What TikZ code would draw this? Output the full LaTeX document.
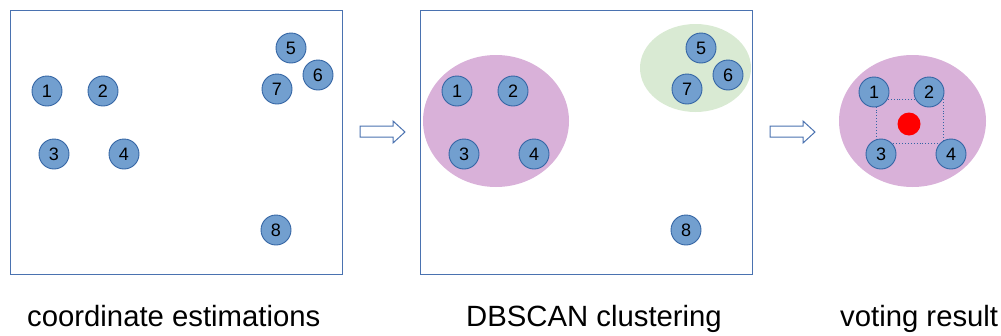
\documentclass[tikz,border=0pt]{standalone}
\usepackage{fontspec}
\setmainfont{Liberation Sans}
\usetikzlibrary{shapes.geometric}
\definecolor{ptfill}{HTML}{729FCF}
\definecolor{ptdraw}{HTML}{3465A4}
\definecolor{pinkc}{HTML}{D9B1D9}
\definecolor{greenc}{HTML}{D9EAD3}
\definecolor{framec}{HTML}{4A72B0}
\begin{document}
\begin{tikzpicture}[x=1pt,y=-1pt,
  pt/.style={circle,draw=ptdraw,fill=ptfill,line width=0.9pt,minimum size=30pt,inner sep=0pt,font=\fontsize{18}{18}\selectfont},
  panel/.style={draw=framec,line width=1pt},
  blob/.style={ellipse,draw=none,inner sep=0pt},
  bigarrow/.style={draw=framec,fill=white,line width=1pt,line join=miter},
  caption/.style={anchor=base west,inner sep=0pt,font=\fontsize{29.3}{30}\selectfont}]
\useasboundingbox (0,0) rectangle (1001,335);
% panel 1
\node[panel,minimum width=332pt,minimum height=264pt,inner sep=0pt] (p1) at (176,142) {};
\node[pt] (a1) at (47,91) {1};
\node[pt] (a2) at (103,91) {2};
\node[pt] (a3) at (54,154) {3};
\node[pt] (a4) at (124,154) {4};
\node[pt] (a5) at (291,48) {5};
\node[pt] (a6) at (318,75) {6};
\node[pt] (a7) at (277,89) {7};
\node[pt] (a8) at (276,230) {8};
% panel 2
\node[panel,minimum width=332pt,minimum height=264pt,inner sep=0pt] (p2) at (586,142) {};
\node[blob,fill=pinkc,minimum width=146pt,minimum height=132pt] (e1) at (496,121) {};
\node[blob,fill=greenc,minimum width=111pt,minimum height=88pt] (e2) at (695.5,68) {};
\node[pt] (b1) at (457,91) {1};
\node[pt] (b2) at (513,91) {2};
\node[pt] (b3) at (464,154) {3};
\node[pt] (b4) at (534,154) {4};
\node[pt] (b5) at (701,48) {5};
\node[pt] (b6) at (728,75) {6};
\node[pt] (b7) at (687,89) {7};
\node[pt] (b8) at (686,230) {8};
% panel 3
\node[blob,fill=pinkc,minimum width=147pt,minimum height=132pt] (e3) at (912.5,121) {};
\node[draw=ptdraw,dotted,line width=0.9pt,minimum width=67pt,minimum height=44pt,inner sep=0pt] (sq) at (909.5,121) {};
\node[pt] (c1) at (874,92) {1};
\node[pt] (c2) at (929,92) {2};
\node[pt] (c3) at (881,154) {3};
\node[pt] (c4) at (951,154) {4};
\node[circle,fill=red,minimum size=23pt,inner sep=0pt] (res) at (909,124) {};
% arrows
\draw[bigarrow] (360,126) -- (393,126) -- (393,121) -- (405,132) -- (393,143) -- (393,137) -- (360,137) -- cycle;
\draw[bigarrow] (770,126) -- (803,126) -- (803,121) -- (815,132) -- (803,143) -- (803,137) -- (770,137) -- cycle;
% captions
\node[caption] (t1) at (27,326) {coordinate estimations};
\node[caption] (t2) at (466,326) {DBSCAN clustering};
\node[caption] (t3) at (840,326) {voting result};
\end{tikzpicture}
\end{document}
